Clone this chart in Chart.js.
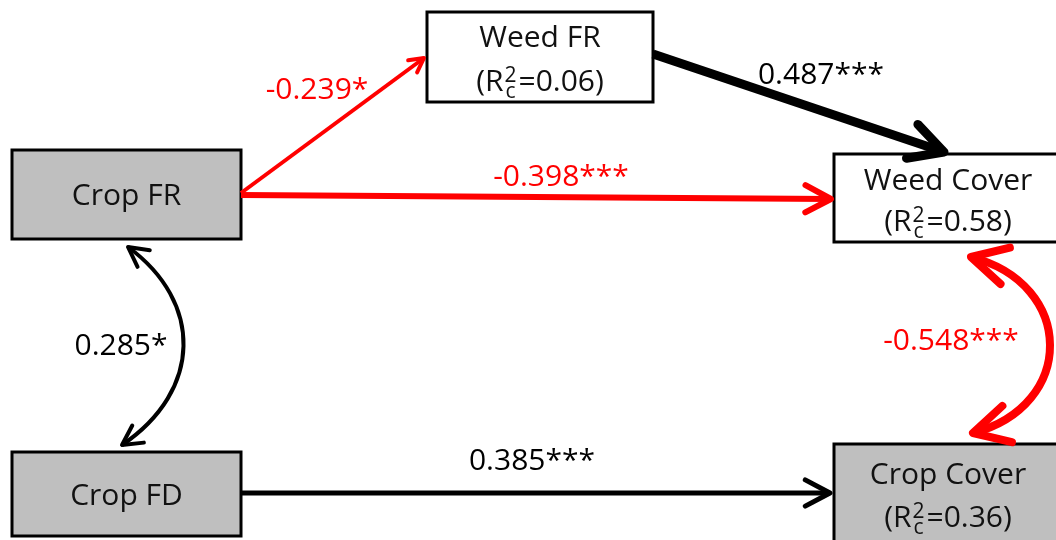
<!DOCTYPE html>
<html><head><meta charset="utf-8">
<script src="https://cdn.jsdelivr.net/npm/chart.js@4.4.1/dist/chart.umd.min.js"></script>
<style>html,body{margin:0;padding:0;background:#fff}canvas{display:block}</style>
</head><body>
<canvas id="c" width="1056" height="540"></canvas>
<script>
// Variables in the path model
const nodeNames = ['Crop FR', 'Crop FD', 'Weed FR', 'Weed Cover', 'Crop Cover'];
const nodeR2 = [null, null, '0.06', '0.58', '0.36'];
const nodeIsCrop = [true, true, false, false, true];

// Directed paths with standardised coefficients
const pathFrom = ['Crop FR', 'Crop FR', 'Weed FR', 'Crop FD'];
const pathTo = ['Weed FR', 'Weed Cover', 'Weed Cover', 'Crop Cover'];
const pathCoef = [-0.239, -0.398, 0.487, 0.385];
const pathSig = ['*', '***', '***', '***'];

// Correlated errors (double-headed arrows)
const corrA = ['Crop FR', 'Weed Cover'];
const corrB = ['Crop FD', 'Crop Cover'];
const corrCoef = [0.285, -0.548];
const corrSig = ['*', '***'];

// ---- layout (diagram units, same grid as the axes) ----
const FONT = '"Open Sans", sans-serif';
const FS = 30;
const boxes = {
  'Crop FR':    { x0: 12,  y0: 150, x1: 241,  y1: 239, base: [205] },
  'Crop FD':    { x0: 12,  y0: 452, x1: 241,  y1: 536, base: [505] },
  'Weed FR':    { x0: 427, y0: 12,  x1: 653,  y1: 102, base: [47, 91] },
  'Weed Cover': { x0: 834, y0: 154, x1: 1062, y1: 242, base: [190, 231] },
  'Crop Cover': { x0: 834, y0: 444, x1: 1062, y1: 560, base: [484, 527] }
};
const pathGeom = [
  { a: [241, 193], b: [424, 58],  w: 4, head: 16, lab: [317, 90] },
  { a: [241, 195], b: [831, 199], w: 6, head: 29, lab: [561, 177] },
  { a: [653, 54],  b: [944, 152], w: 9, head: 38, lab: [821, 75] },
  { a: [241, 493], b: [830, 493], w: 5, head: 28, lab: [532, 461] }
];
const corrGeom = [
  { p: [[128, 247], [203, 302], [203, 390], [122, 445]], w: 4, head: 22, lab: [121, 346] },
  { p: [[971, 257], [1076, 284], [1076, 406], [973, 433]], w: 8, head: 40, lab: [951, 341] }
];

const colorFor = v => v < 0 ? '#ff0000' : '#000000';
const fmt = (v, s) => v.toFixed(3) + s;

const datasets = pathCoef.map((v, i) => ({
  type: 'scatter',
  label: pathFrom[i] + ' -> ' + pathTo[i],
  data: [{ x: pathGeom[i].a[0], y: pathGeom[i].a[1] }, { x: pathGeom[i].b[0], y: pathGeom[i].b[1] }],
  showLine: true,
  borderColor: colorFor(v),
  borderWidth: pathGeom[i].w,
  borderCapStyle: 'butt',
  pointRadius: 0,
  pointHoverRadius: 0
}));

function drawHead(ctx, tip, ang, len, w, color) {
  const half = 28 * Math.PI / 180;
  ctx.save();
  ctx.strokeStyle = color;
  ctx.lineWidth = w;
  ctx.lineCap = 'round';
  ctx.lineJoin = 'round';
  ctx.beginPath();
  ctx.moveTo(tip[0] - len * Math.cos(ang - half), tip[1] - len * Math.sin(ang - half));
  ctx.lineTo(tip[0], tip[1]);
  ctx.lineTo(tip[0] - len * Math.cos(ang + half), tip[1] - len * Math.sin(ang + half));
  ctx.stroke();
  ctx.restore();
}

// "(R²c=value)" with the 2 raised and the c lowered, stacked at one x
function drawR2(ctx, cx, base, val) {
  const big = FS + 'px ' + FONT, small = '21px ' + FONT;
  ctx.font = big;
  const wA = ctx.measureText('(R').width;
  const wC = ctx.measureText('=' + val + ')').width;
  ctx.font = small;
  const wB = Math.max(ctx.measureText('2').width, ctx.measureText('c').width) + 3;
  let x = cx - (wA + wB + wC) / 2;
  ctx.textAlign = 'left';
  ctx.font = big; ctx.fillText('(R', x, base); x += wA + 1;
  ctx.font = small;
  ctx.fillText('2', x, base - 9);
  ctx.fillText('c', x + 1, base + 7);
  x += wB - 1;
  ctx.font = big; ctx.fillText('=' + val + ')', x, base);
}

const diagram = {
  id: 'pathDiagram',
  beforeDatasetsDraw(chart) {
    const ctx = chart.ctx, sx = chart.scales.x, sy = chart.scales.y;
    const X = v => sx.getPixelForValue(v), Y = v => sy.getPixelForValue(v);
    ctx.save();
    nodeNames.forEach((n, i) => {
      const b = boxes[n];
      const x0 = X(b.x0), x1 = X(b.x1), y0 = Y(b.y0), y1 = Y(b.y1);
      ctx.fillStyle = nodeIsCrop[i] ? '#bfbfbf' : '#ffffff';
      ctx.fillRect(x0, y0, x1 - x0, y1 - y0);
      ctx.strokeStyle = '#000'; ctx.lineWidth = 3;
      ctx.strokeRect(x0, y0, x1 - x0, y1 - y0);
      const cx = X((b.x0 + b.x1) / 2);
      ctx.fillStyle = '#111';
      ctx.textAlign = 'center'; ctx.textBaseline = 'alphabetic';
      ctx.font = FS + 'px ' + FONT;
      ctx.fillText(n, cx, Y(b.base[0]));
      if (nodeR2[i] !== null) drawR2(ctx, cx, Y(b.base[1]), nodeR2[i]);
    });
    // coefficient labels
    ctx.font = FS + 'px ' + FONT;
    ctx.textAlign = 'center'; ctx.textBaseline = 'middle';
    pathCoef.forEach((v, i) => {
      ctx.fillStyle = colorFor(v);
      ctx.fillText(fmt(v, pathSig[i]), X(pathGeom[i].lab[0]), Y(pathGeom[i].lab[1]));
    });
    corrCoef.forEach((v, i) => {
      ctx.fillStyle = colorFor(v);
      ctx.fillText(fmt(v, corrSig[i]), X(corrGeom[i].lab[0]), Y(corrGeom[i].lab[1]));
    });
    ctx.restore();
  },
  afterDatasetsDraw(chart) {
    const ctx = chart.ctx, sx = chart.scales.x, sy = chart.scales.y;
    const P = p => [sx.getPixelForValue(p[0]), sy.getPixelForValue(p[1])];
    pathCoef.forEach((v, i) => {
      const g = pathGeom[i], a = P(g.a), b = P(g.b);
      drawHead(ctx, b, Math.atan2(b[1] - a[1], b[0] - a[0]), g.head, g.w, colorFor(v));
    });
    corrCoef.forEach((v, i) => {
      const g = corrGeom[i], p = g.p.map(P), col = colorFor(v);
      ctx.save();
      ctx.strokeStyle = col; ctx.lineWidth = g.w; ctx.lineCap = 'butt';
      ctx.beginPath();
      ctx.moveTo(p[0][0], p[0][1]);
      ctx.bezierCurveTo(p[1][0], p[1][1], p[2][0], p[2][1], p[3][0], p[3][1]);
      ctx.stroke();
      ctx.restore();
      drawHead(ctx, p[0], Math.atan2(p[0][1] - p[1][1], p[0][0] - p[1][0]), g.head, g.w, col);
      drawHead(ctx, p[3], Math.atan2(p[3][1] - p[2][1], p[3][0] - p[2][0]), g.head, g.w, col);
    });
  }
};

new Chart(document.getElementById('c'), {
  type: 'scatter',
  data: { datasets },
  options: {
    responsive: false,
    animation: false,
    layout: { padding: 0 },
    plugins: { legend: { display: false }, tooltip: { enabled: false } },
    scales: {
      x: { type: 'linear', min: 0, max: 1056, display: false },
      y: { type: 'linear', min: 0, max: 540, reverse: true, display: false }
    }
  },
  plugins: [diagram]
});
</script>
</body></html>
